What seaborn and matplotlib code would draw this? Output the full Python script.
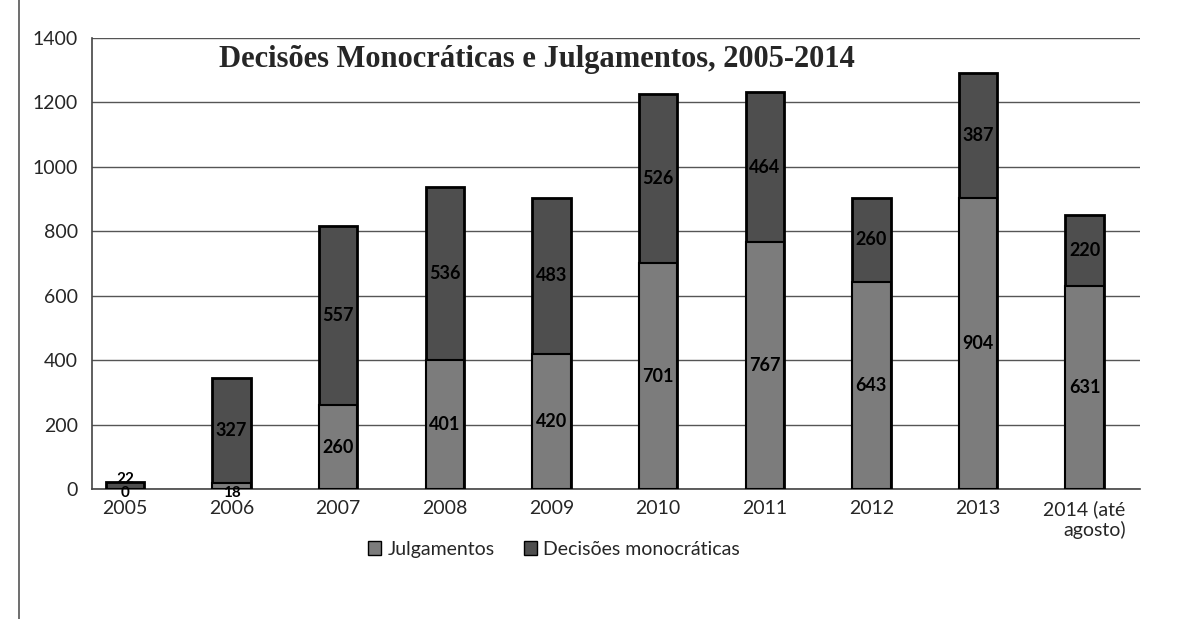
import matplotlib
matplotlib.use("Agg")
import matplotlib.pyplot as plt
import seaborn as sns
import numpy as np
from matplotlib.lines import Line2D

anos = ["2005", "2006", "2007", "2008", "2009", "2010", "2011", "2012", "2013", "2014 (até\nagosto)"]
julgamentos = [0, 18, 260, 401, 420, 701, 767, 643, 904, 631]
decisoes = [22, 327, 557, 536, 483, 526, 464, 260, 387, 220]
y_ticks = [0, 200, 400, 600, 800, 1000, 1200, 1400]
titulo = "Decisões Monocráticas e Julgamentos, 2005-2014"
serie_nomes = ["Julgamentos", "Decisões monocráticas"]

cor_julg = "#7c7c7c"
cor_dec = "#4e4e4e"

sns.set_theme(style="white")
plt.rcParams["font.family"] = ["Lato", "DejaVu Sans"]

fig = plt.figure(figsize=(11.91, 6.19), dpi=100)
ax = fig.add_axes([0.0772, 0.21, 0.880, 0.7286])

totais = [j + d for j, d in zip(julgamentos, decisoes)]
x = list(range(len(anos)))

sns.barplot(x=x, y=totais, color=cor_dec, width=0.36, edgecolor="black",
            linewidth=2, ax=ax, saturation=1, zorder=3)
sns.barplot(x=x, y=julgamentos, color=cor_julg, width=0.36, edgecolor="black",
            linewidth=1.5, ax=ax, saturation=1, zorder=4)
if ax.get_legend() is not None:
    ax.get_legend().remove()

# data labels
for i in x:
    if julgamentos[i] > 30:
        yj, fs_j = julgamentos[i] / 2, 13
    else:
        yj, fs_j = -12, 11
    if decisoes[i] > 30:
        yd, fs_d = julgamentos[i] + decisoes[i] / 2, 13
    else:
        yd, fs_d = julgamentos[i] + 32, 11
    ax.text(i, yj, str(julgamentos[i]), ha="center", va="center", fontsize=fs_j,
            fontweight="bold", color="black", zorder=6, clip_on=False)
    ax.text(i, yd, str(decisoes[i]), ha="center", va="center", fontsize=fs_d,
            fontweight="bold", color="black", zorder=6)

ax.set_ylim(0, 1400)
ax.set_xlim(-0.31, 9.52)
ax.set_yticks(y_ticks)
ax.set_yticklabels([str(v) for v in y_ticks], fontsize=14)
ax.set_xticks(x)
ax.set_xticklabels(anos, fontsize=14, multialignment="right", va="top")
ax.tick_params(axis="y", pad=10, length=0)
ax.tick_params(axis="x", pad=8, length=0)
ax.yaxis.grid(True, color="#555555", linewidth=1.0, linestyle="-", zorder=0)
ax.set_axisbelow(True)

for s in ["top", "right"]:
    ax.spines[s].set_visible(False)
ax.spines["left"].set_color("#444444")
ax.spines["left"].set_linewidth(1.2)
ax.spines["bottom"].set_color("#444444")
ax.spines["bottom"].set_linewidth(1.2)

ax.text(0.425, 0.985, titulo, transform=ax.transAxes, ha="center", va="top",
        fontsize=22, fontweight="bold", family=["Liberation Serif", "DejaVu Serif"], zorder=7)

handles = [plt.Rectangle((0, 0), 1, 1, facecolor=cor_julg, edgecolor="black", linewidth=1),
           plt.Rectangle((0, 0), 1, 1, facecolor=cor_dec, edgecolor="black", linewidth=1)]
fig.legend(handles, serie_nomes, loc="center", bbox_to_anchor=(0.465, 0.113), ncol=2,
           frameon=False, fontsize=14, handlelength=0.7, handleheight=0.7,
           handletextpad=0.3, columnspacing=1.5)

fig.add_artist(Line2D([0.016, 0.016], [0.0, 1.0], color="#555555", linewidth=1.2,
                      transform=fig.transFigure))

fig.savefig("out.png", dpi=100, facecolor="white")
